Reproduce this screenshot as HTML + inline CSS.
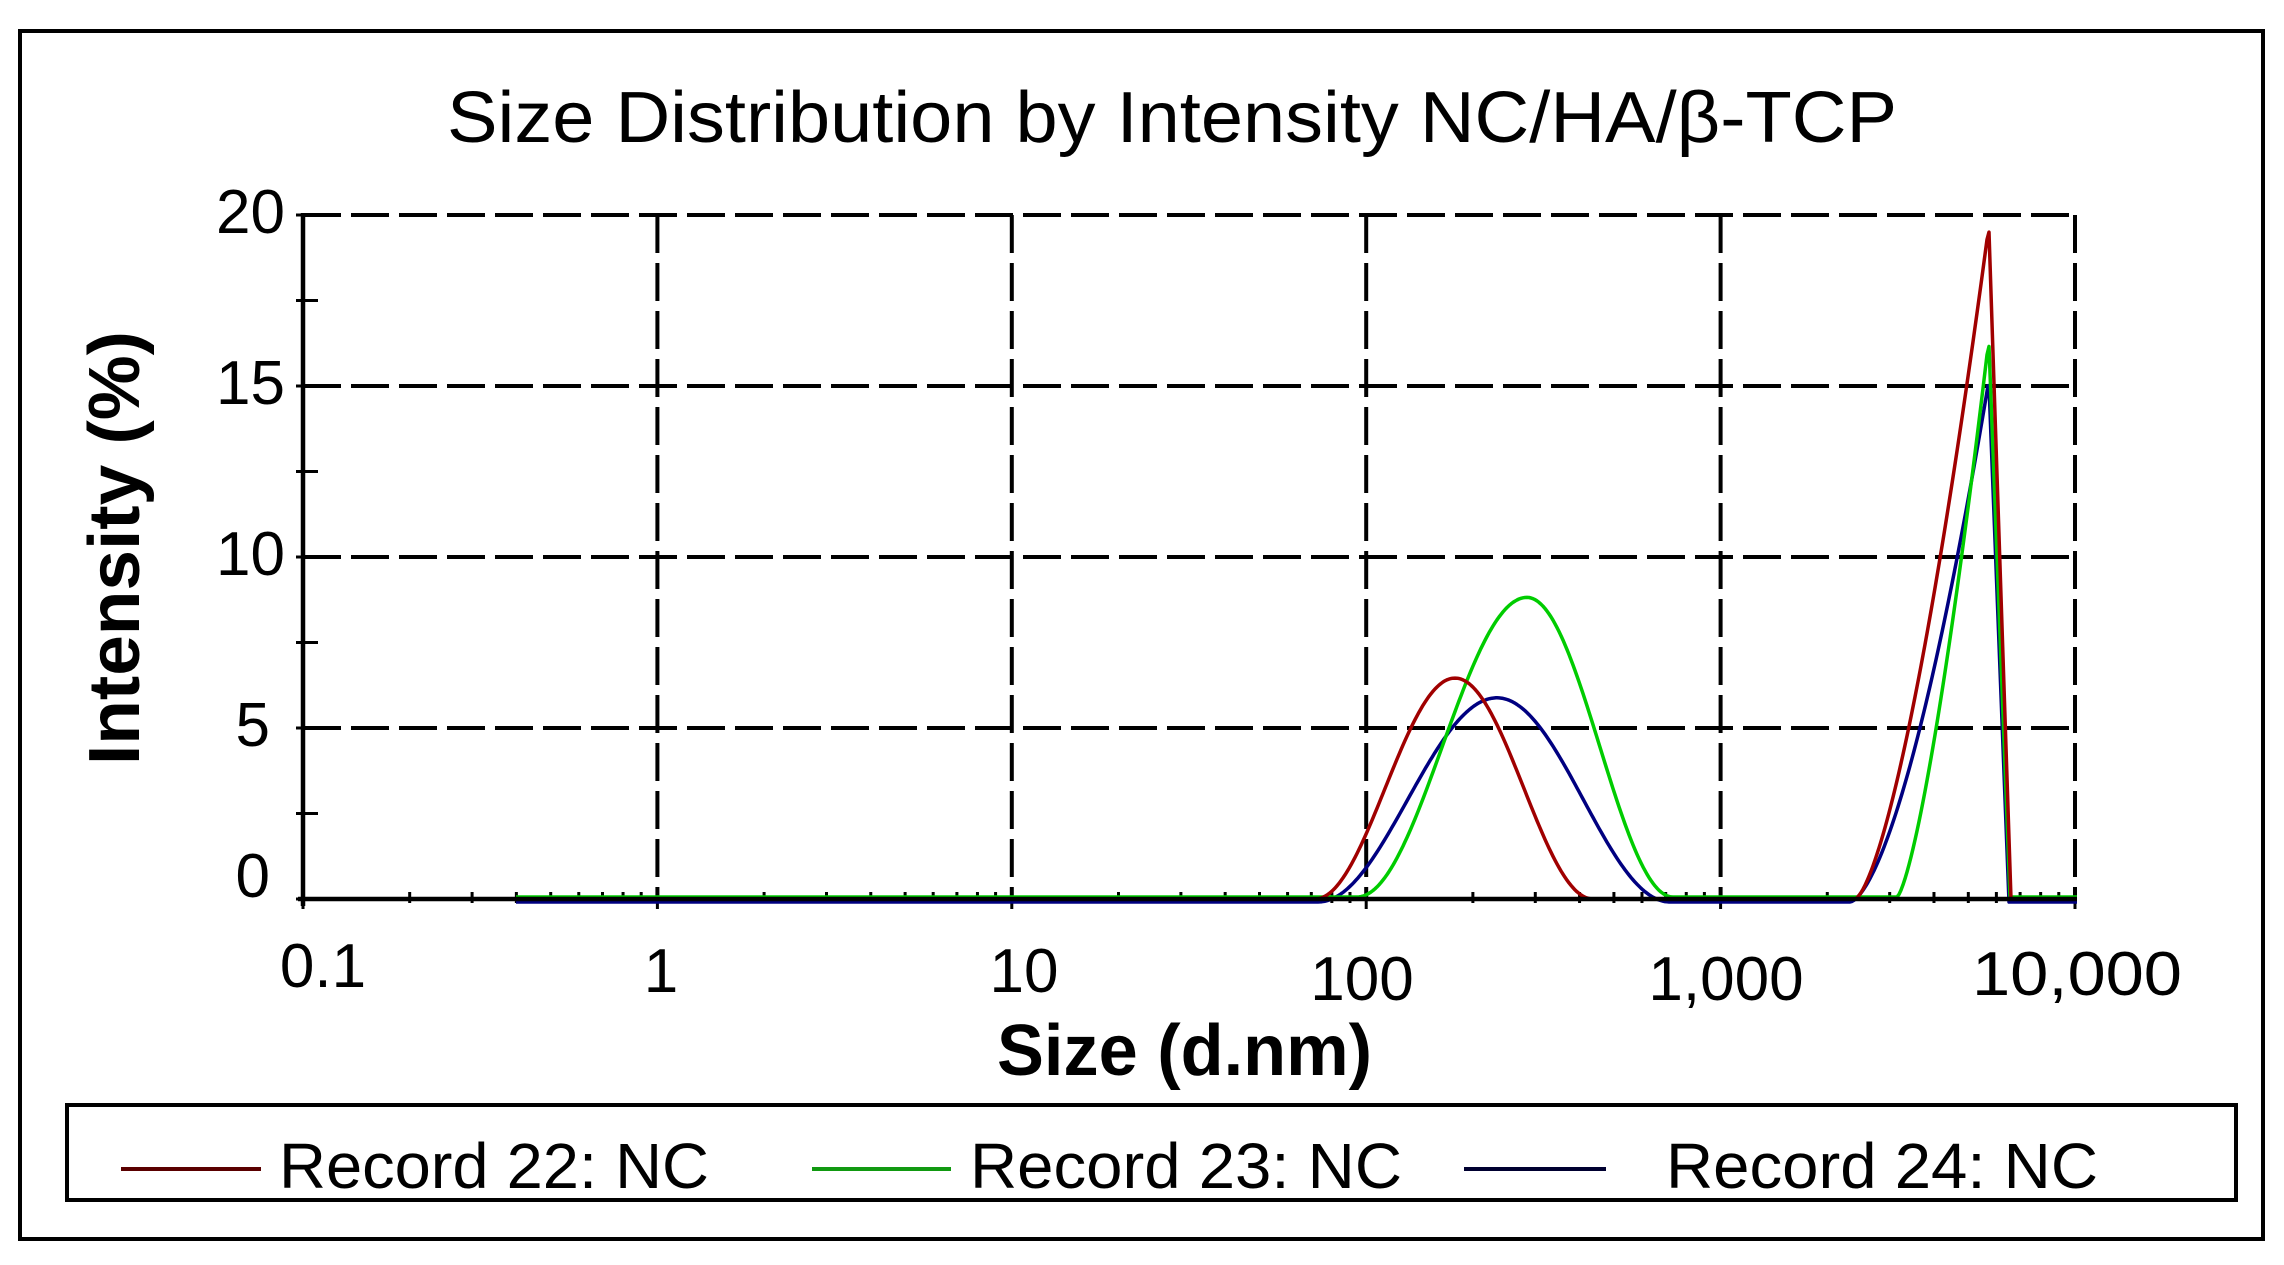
<!DOCTYPE html>
<html><head><meta charset="utf-8"><style>
html,body{margin:0;padding:0;background:#fff;}
svg{display:block;}
text{font-family:"Liberation Sans",sans-serif;fill:#000;}
</style></head><body>
<svg id="s" width="2284" height="1265" viewBox="0 0 2284 1265" xmlns="http://www.w3.org/2000/svg">
<rect x="0" y="0" width="2284" height="1265" fill="#fff"/>
<rect x="20" y="31" width="2243" height="1208" fill="none" stroke="#000" stroke-width="4"/>
<text x="447" y="142" font-size="72" textLength="1450" lengthAdjust="spacingAndGlyphs">Size Distribution by Intensity NC/HA/β-TCP</text>
<g id="grid" stroke="#000" stroke-width="4" stroke-dasharray="38 10" fill="none"></g>
<g id="ticks" stroke="#000" stroke-width="3"></g>
<g id="series" fill="none" stroke-width="3.5" stroke-linejoin="round"></g>
<line x1="303" y1="213" x2="303" y2="906" stroke="#000" stroke-width="4.5"/>
<line x1="298" y1="899" x2="2077" y2="899" stroke="#000" stroke-width="4.5"/>
<g font-size="62" text-anchor="end">
<text x="285" y="233">20</text>
<text x="285" y="404">15</text>
<text x="285" y="575">10</text>
<text x="270" y="746">5</text>
<text x="270" y="897">0</text>
</g>
<g font-size="62" text-anchor="middle">
<text x="323" y="987">0.1</text>
<text x="661" y="992">1</text>
<text x="1024" y="992">10</text>
<text x="1362" y="1000">100</text>
<text x="1726" y="1000">1,000</text>
<text x="2077" y="995" textLength="210" lengthAdjust="spacingAndGlyphs">10,000</text>
</g>
<text x="997" y="1075" font-size="72" font-weight="bold" textLength="375" lengthAdjust="spacingAndGlyphs">Size (d.nm)</text>
<text transform="translate(139,765) rotate(-90)" font-size="72" font-weight="bold" textLength="434" lengthAdjust="spacingAndGlyphs">Intensity (%)</text>
<rect x="67" y="1105" width="2169" height="95" fill="none" stroke="#000" stroke-width="4"/>
<line x1="121" y1="1169" x2="261" y2="1169" stroke="#5a0000" stroke-width="4"/>
<line x1="812" y1="1169" x2="951" y2="1169" stroke="#119911" stroke-width="4"/>
<line x1="1464" y1="1169" x2="1606" y2="1169" stroke="#000030" stroke-width="4"/>
<g font-size="64">
<text x="279" y="1188" textLength="430" lengthAdjust="spacingAndGlyphs">Record 22: NC</text>
<text x="970" y="1188" textLength="432" lengthAdjust="spacingAndGlyphs">Record 23: NC</text>
<text x="1666" y="1188" textLength="432" lengthAdjust="spacingAndGlyphs">Record 24: NC</text>
</g>
</svg>
<script>
(function(){
var NS="http://www.w3.org/2000/svg";
var X0=303,DEC=354.4,Y0=899,PU=34.2;
function X(d){return X0+DEC*(Math.log10(d)+1);}
function Y(v){return Y0-PU*v;}
function el(p,tag,a){var e=document.createElementNS(NS,tag);for(var k in a)e.setAttribute(k,a[k]);p.appendChild(e);return e;}
var g=document.getElementById('grid');
[5,10,15,20].forEach(function(v){el(g,'line',{x1:X0,y1:Y(v),x2:2077,y2:Y(v)});});
[1,10,100,1000,10000].forEach(function(d){el(g,'line',{x1:X(d),y1:Y(20),x2:X(d),y2:Y0});});
var t=document.getElementById('ticks');
[0,5,10,15,20].forEach(function(v){el(t,'line',{x1:296,y1:Y(v),x2:X0,y2:Y(v)});});
[2.5,7.5,12.5,17.5].forEach(function(v){el(t,'line',{x1:296,y1:Y(v),x2:318,y2:Y(v)});});
for(var e=-1;e<4;e++){for(var m=2;m<10;m++){var x=X(m*Math.pow(10,e));el(t,'line',{x1:x,y1:Y0-7,x2:x,y2:Y0+4});}}
[0.1,1,10,100,1000,10000].forEach(function(d){el(t,'line',{x1:X(d),y1:Y0-4,x2:X(d),y2:Y0+10});});
var s=document.getElementById('series');
function bell(a,c,b,p,pw){var pts=[];for(var x=a;x<=c;x+=2){var u=(x-a)/(c-a);var v=pw?p*Math.pow(u,pw):p*(1-Math.cos(Math.PI*u))/2;pts.push([x,v]);}
 if(b>c){for(var x2=c;x2<=b;x2+=2){var u2=(x2-c)/(b-c);pts.push([x2,p*(1+Math.cos(Math.PI*u2))/2]);}}else{pts.push([c+1,p]);}
 return pts;}
function series(color,dy,parts){var pts=[];parts.forEach(function(q){pts=pts.concat(q);});
 el(s,'polyline',{points:pts.map(function(p){return p[0].toFixed(1)+','+(Y(p[1])+dy).toFixed(1);}).join(' '),stroke:color});}
// blue
series('#000080',3,[[[516,0]],bell(1318,1497,1670,5.97),[[1850,0]],bell(1850,1988,1988,15.1,1.6),[[2009,0],[2077,0]]]);
// green
series('#00cc00',-2,[[[516,0]],bell(1357,1527,1673,8.76),[[1897,0]],bell(1897,1988,1988,16.1,1.4),[[2010,0],[2077,0]]]);
// red
series('#a00000',0,[[[1315,0]],bell(1315,1455,1593,6.46),[[1855,0]],bell(1855,1988,1988,19.5,1.5),[[2011,0]]]);
})();
</script>
</body></html>
